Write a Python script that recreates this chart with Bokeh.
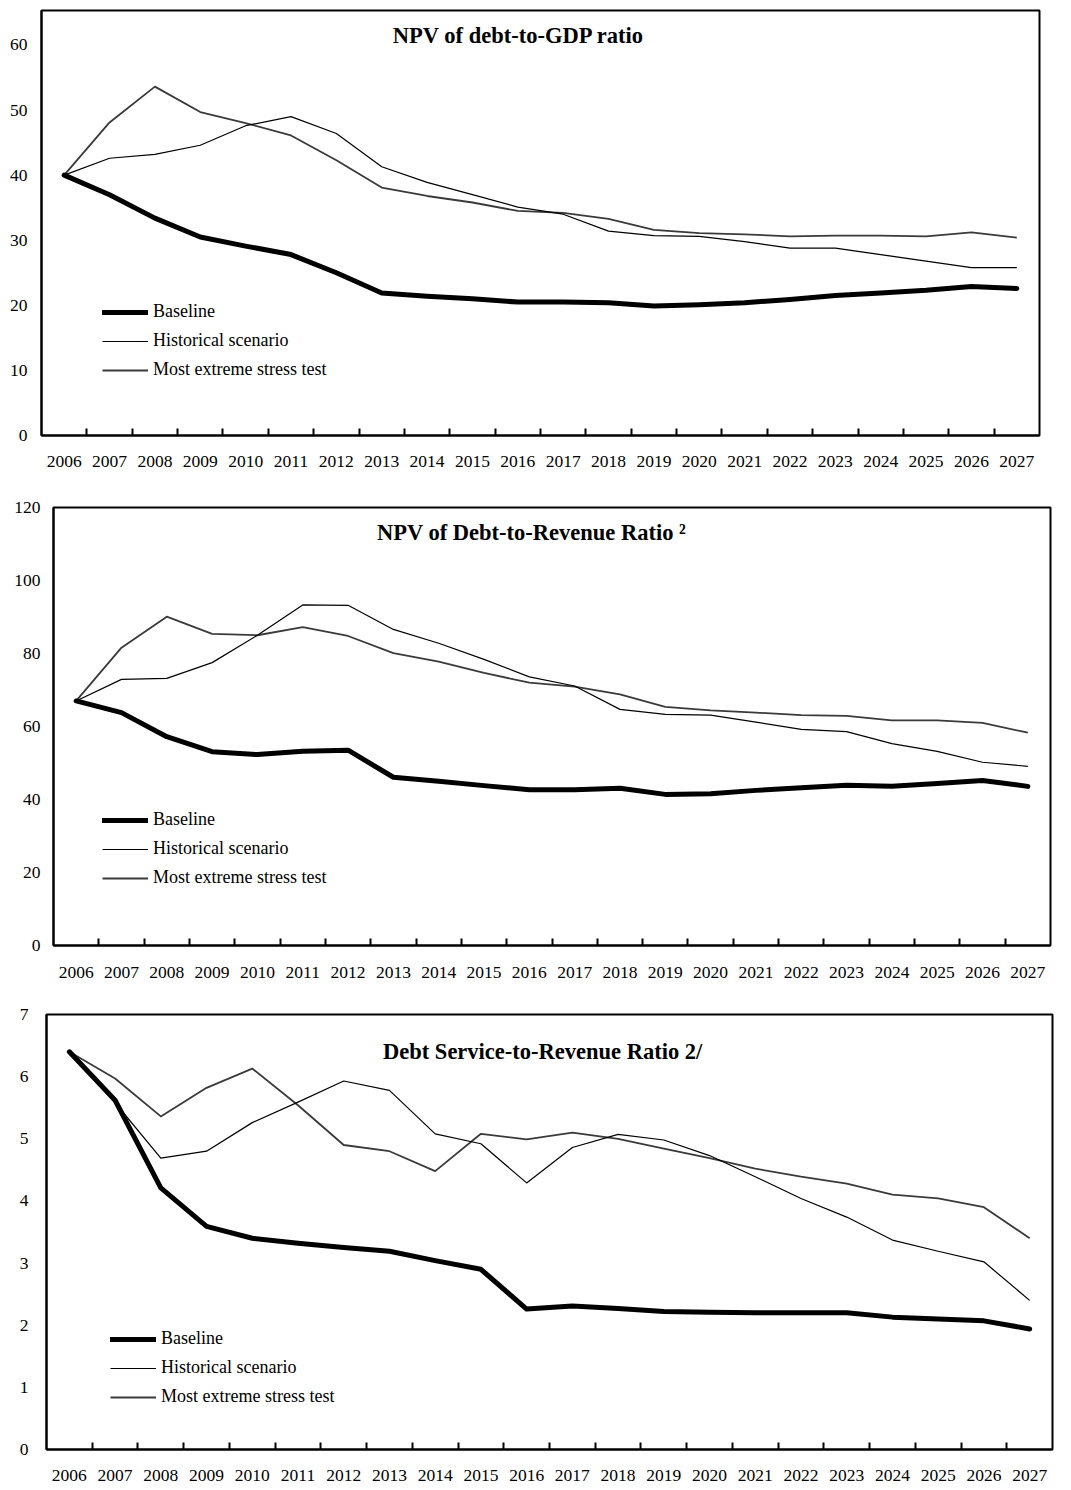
from bokeh.plotting import figure
from bokeh.models import FixedTicker, Legend, LegendItem, Label, Range1d
from bokeh.embed import file_html
from bokeh.resources import INLINE

# ---------------- data ----------------
years = list(range(2006, 2028))
year_labels = [str(y) for y in years]
series_names = ["Baseline", "Historical scenario", "Most extreme stress test"]

# Panel 1: NPV of debt-to-GDP ratio
gdp_baseline = [40.0, 37.0, 33.4, 30.5, 29.1, 27.8, 25.0, 21.9, 21.4, 21.0, 20.5,
                20.5, 20.4, 19.9, 20.1, 20.4, 20.9, 21.5, 21.9, 22.3, 22.9, 22.6]
gdp_historical = [40.0, 42.6, 43.2, 44.6, 47.6, 49.0, 46.4, 41.3, 38.9, 37.0, 35.1,
                  34.0, 31.4, 30.7, 30.6, 29.8, 28.8, 28.8, 27.8, 26.8, 25.8, 25.8]
gdp_stress = [40.0, 48.1, 53.6, 49.7, 48.0, 46.1, 42.3, 38.1, 36.8, 35.8, 34.5,
              34.2, 33.3, 31.6, 31.1, 30.9, 30.6, 30.7, 30.7, 30.6, 31.2, 30.4]
gdp_yticks = [0, 10, 20, 30, 40, 50, 60]

# Panel 2: NPV of debt-to-revenue ratio
rev_baseline = [67.0, 63.8, 57.2, 53.1, 52.3, 53.2, 53.5, 46.1, 45.0, 43.8, 42.7,
                42.7, 43.1, 41.4, 41.6, 42.5, 43.2, 43.9, 43.6, 44.4, 45.2, 43.6]
rev_historical = [67.0, 72.9, 73.2, 77.5, 85.0, 93.3, 93.2, 86.6, 82.8, 78.4, 73.6,
                  71.1, 64.7, 63.3, 63.1, 61.2, 59.2, 58.6, 55.3, 53.2, 50.2, 49.1]
rev_stress = [67.0, 81.6, 90.1, 85.4, 85.0, 87.2, 84.8, 80.1, 77.8, 74.7, 72.0,
              70.9, 68.8, 65.4, 64.4, 63.8, 63.1, 62.9, 61.7, 61.7, 61.0, 58.3]
rev_yticks = [0, 20, 40, 60, 80, 100, 120]

# Panel 3: Debt service-to-revenue ratio
ds_baseline = [6.40, 5.62, 4.21, 3.59, 3.40, 3.32, 3.25, 3.19, 3.04, 2.90, 2.26,
               2.31, 2.27, 2.22, 2.21, 2.20, 2.20, 2.20, 2.13, 2.10, 2.07, 1.94]
ds_historical = [6.40, 5.58, 4.69, 4.80, 5.26, 5.59, 5.93, 5.78, 5.08, 4.92, 4.29,
                 4.86, 5.07, 4.98, 4.73, 4.39, 4.04, 3.74, 3.37, 3.19, 3.02, 2.40]
ds_stress = [6.40, 5.97, 5.36, 5.82, 6.13, 5.54, 4.90, 4.80, 4.48, 5.08, 4.99,
             5.10, 5.00, 4.84, 4.69, 4.52, 4.39, 4.28, 4.10, 4.04, 3.90, 3.40]
ds_yticks = [0, 1, 2, 3, 4, 5, 6, 7]

FONT = "Liberation Serif"
TICK_SIZE = "17.5px"
LEGEND_SIZE = "18px"


def make_panel(title, title_xy, yticks, ymax, base, hist, stress,
               frame_w, frame_h, b_left, b_right, b_top, b_bottom,
               y_standoff, x_standoff, legend_loc):
    p = figure(frame_width=frame_w, frame_height=frame_h,
               x_range=Range1d(2005.5, 2027.5), y_range=Range1d(0, ymax),
               min_border_left=b_left, min_border_right=b_right,
               min_border_top=b_top, min_border_bottom=b_bottom,
               output_backend="svg", toolbar_location=None)
    p.background_fill_color = "white"
    p.border_fill_color = "white"
    p.outline_line_color = "black"
    p.outline_line_width = 2
    p.xgrid.visible = False
    p.ygrid.visible = False

    # x axis: labels at categories, small inward marks between categories
    p.xaxis.ticker = FixedTicker(ticks=years, minor_ticks=[y + 0.5 for y in years[:-1]])
    p.xaxis.major_label_overrides = {y: l for y, l in zip(years, year_labels)}
    p.xaxis.major_tick_line_color = None
    p.xaxis.major_tick_in = 0
    p.xaxis.major_tick_out = 0
    p.xaxis.minor_tick_line_color = "black"
    p.xaxis.minor_tick_line_width = 2
    p.xaxis.minor_tick_in = 7
    p.xaxis.minor_tick_out = 0
    p.xaxis.axis_line_width = 2
    p.xaxis.major_label_standoff = x_standoff

    p.yaxis.ticker = FixedTicker(ticks=yticks, minor_ticks=[])
    p.yaxis.major_tick_line_color = None
    p.yaxis.minor_tick_line_color = None
    p.yaxis.major_tick_in = 0
    p.yaxis.major_tick_out = 0
    p.yaxis.axis_line_width = 2
    p.yaxis.major_label_standoff = y_standoff

    for ax in (p.xaxis, p.yaxis):
        ax.major_label_text_font = FONT
        ax.major_label_text_font_size = TICK_SIZE
        ax.major_label_text_color = "black"
        ax.axis_line_color = "black"

    r_stress = p.line(years, stress, line_color="#3a3a3a", line_width=1.8,
                      line_join="round")
    r_hist = p.line(years, hist, line_color="black", line_width=1.2,
                    line_join="round")
    r_base = p.line(years, base, line_color="black", line_width=5,
                    line_join="round", line_cap="round")

    legend = Legend(items=[LegendItem(label=series_names[0], renderers=[r_base]),
                           LegendItem(label=series_names[1], renderers=[r_hist]),
                           LegendItem(label=series_names[2], renderers=[r_stress])],
                    location=legend_loc, orientation="vertical",
                    label_text_font=FONT, label_text_font_size=LEGEND_SIZE,
                    label_text_color="black",
                    glyph_width=46, glyph_height=20, label_height=20,
                    label_standoff=5, spacing=8, padding=0, margin=0,
                    border_line_color=None, background_fill_alpha=0)
    p.add_layout(legend)

    p.add_layout(Label(x=title_xy[0], y=title_xy[1], text=title,
                       text_font=FONT, text_font_style="bold",
                       text_font_size="22.5px", text_color="black",
                       text_align="center", text_baseline="middle"))
    return p


p1 = make_panel("NPV of debt-to-GDP ratio", (2016.02, 61.5), gdp_yticks, 65.3,
                gdp_baseline, gdp_historical, gdp_stress,
                998, 425, 41, 31, 10, 54, 14, 20, (61, 55))
p2 = make_panel("NPV of Debt-to-Revenue Ratio \u00b2", (2016.05, 113.2), rev_yticks, 120,
                rev_baseline, rev_historical, rev_stress,
                997, 438, 53, 20, 18, 51, 13, 21, (49, 57))
p3 = make_panel("Debt Service-to-Revenue Ratio 2/", (2016.35, 6.40), ds_yticks, 7,
                ds_baseline, ds_historical, ds_stress,
                1006, 435, 46, 18, 18, 40, 18, 20, (64, 42))

with open("out.html", "w") as f:
    f.write(file_html([p1, p2, p3], INLINE))
